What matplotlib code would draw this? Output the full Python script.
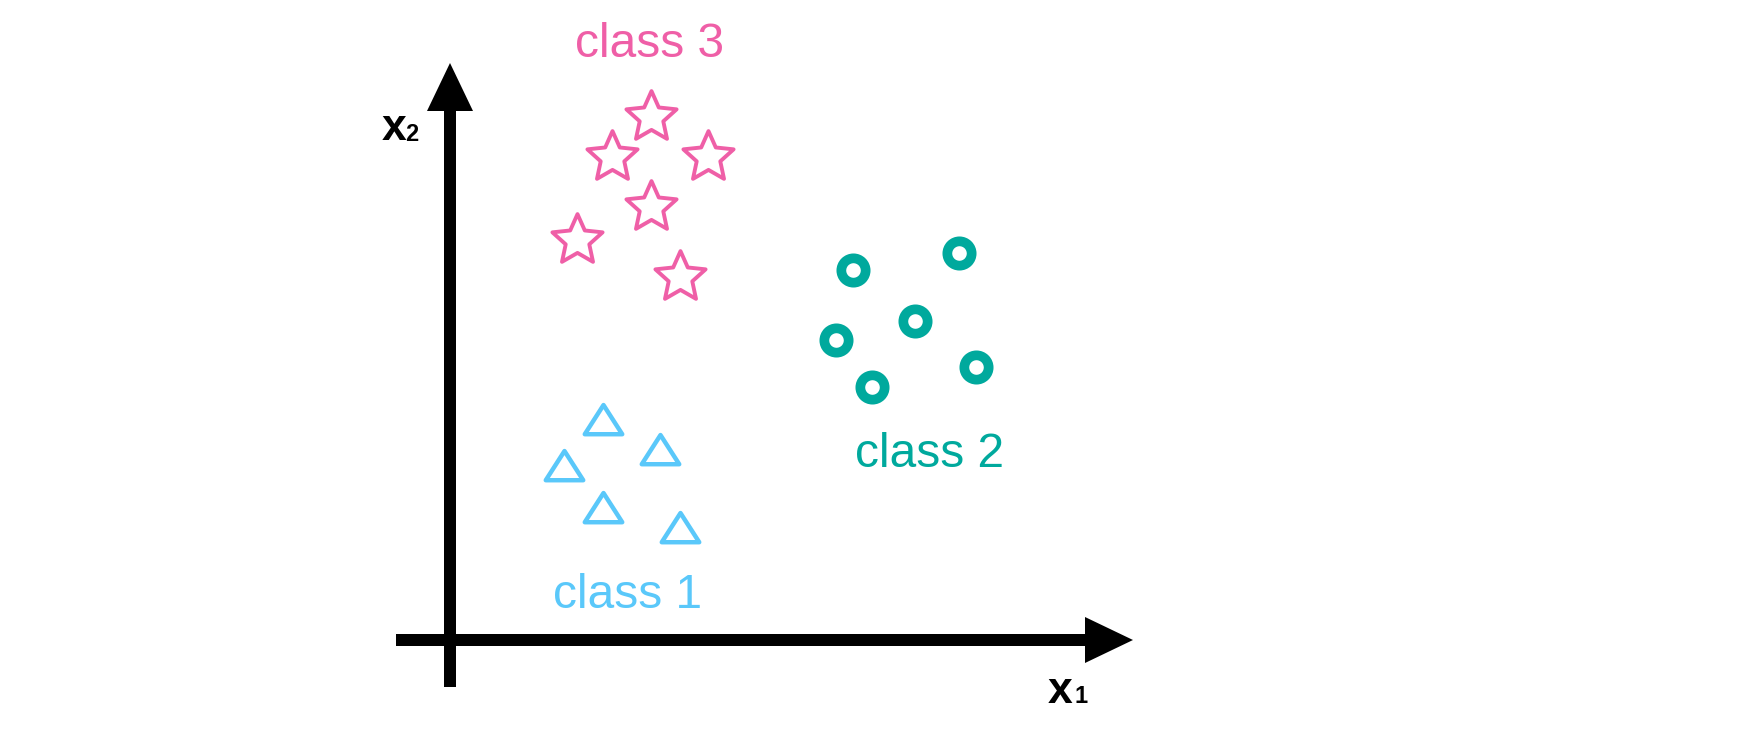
import matplotlib
matplotlib.use('Agg')
import numpy as np
import matplotlib.pyplot as plt
from matplotlib.path import Path
from matplotlib.markers import MarkerStyle

# points, origin = where the two axes cross
class1_x = [153, 210, 114, 153, 230]
class1_y = [216, 186, 170, 128, 108]

class2_x = [403, 509, 465, 386, 526, 422]
class2_y = [370, 387, 319, 300, 273, 253]

class3_x = [201, 162, 258, 201, 127, 230]
class3_y = [523, 483, 483, 433, 400, 363]

labels = ['class 1', 'class 2', 'class 3']
label_x = [178, 480, 200]
label_y = [32, 173, 583]

pink = '#ef5fa7'
teal = '#00a99d'
blue = '#5ac8fa'

# marker shapes
tri = Path([(0, 1), (-0.963, -0.5), (0.963, -0.5), (0, 1)],
           [Path.MOVETO, Path.LINETO, Path.LINETO, Path.CLOSEPOLY])
ang = np.pi / 2 + np.arange(10) * np.pi / 5
rad = np.where(np.arange(10) % 2 == 0, 1.0, 0.47)
pts = list(zip(rad * np.cos(ang), rad * np.sin(ang)))
star = Path(pts + [pts[0]], [Path.MOVETO] + [Path.LINETO] * 9 + [Path.CLOSEPOLY])

fig = plt.figure(figsize=(17.4, 7.4), dpi=100)
ax = fig.add_axes([0, 0, 1, 1])
ax.set_xlim(-450, 1290)
ax.set_ylim(-100, 640)
ax.axis('off')

# axes arrows
ax.arrow(-54, 0, 737, 0, width=12, head_width=46, head_length=48,
         length_includes_head=True, color='black', linewidth=0)
ax.arrow(0, -47, 0, 624, width=12, head_width=46, head_length=48,
         length_includes_head=True, color='black', linewidth=0)

ax.plot(class1_x, class1_y, linestyle='none', marker=MarkerStyle(tri, joinstyle='miter'),
        markersize=28, markerfacecolor='none', markeredgecolor=blue, markeredgewidth=3.2)
ax.plot(class2_x, class2_y, linestyle='none', marker='o', markersize=17.5,
        markerfacecolor='none', markeredgecolor=teal, markeredgewidth=7)
ax.plot(class3_x, class3_y, linestyle='none', marker=MarkerStyle(star, joinstyle='miter'),
        markersize=38, markerfacecolor='none', markeredgecolor=pink, markeredgewidth=2.8)

cols = [blue, teal, pink]
for i in range(3):
    ax.text(label_x[i], label_y[i], labels[i], color=cols[i], fontsize=34.5,
            family='Liberation Sans', ha='center', va='baseline')

# axis names
ax.text(-68, 500, 'x', fontsize=32, fontweight='bold', family='Liberation Sans',
        ha='left', va='baseline')
ax.text(-45, 499, '2', fontsize=17, fontweight='bold', family='Liberation Sans',
        ha='left', va='baseline')
ax.text(598, -63, 'x', fontsize=32, fontweight='bold', family='Liberation Sans',
        ha='left', va='baseline')
ax.text(625, -63, '1', fontsize=17, fontweight='bold', family='Liberation Sans',
        ha='left', va='baseline')

plt.savefig('out.png', dpi=100)
